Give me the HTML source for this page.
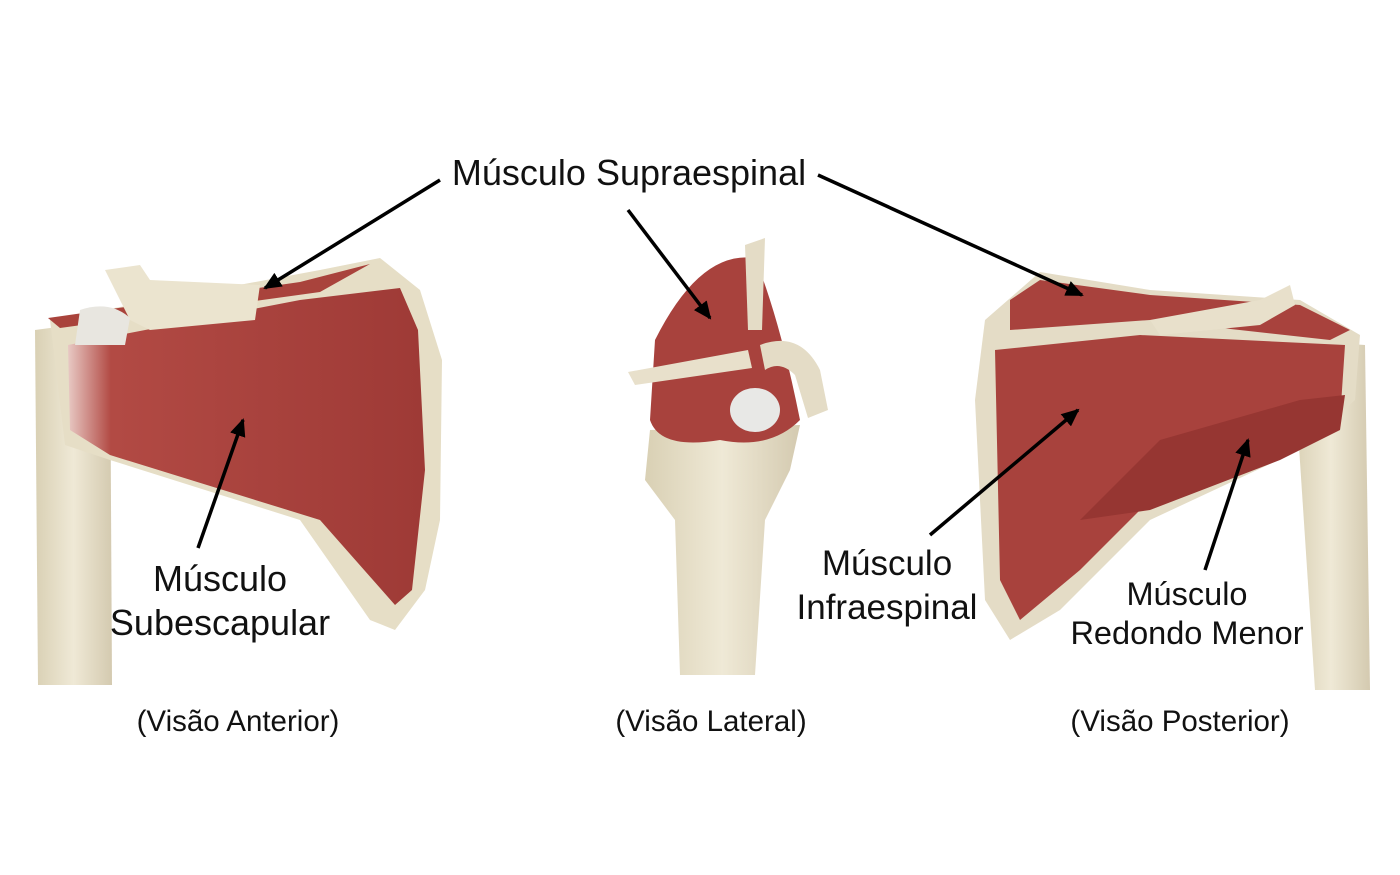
<!DOCTYPE html>
<html><head><meta charset="utf-8"><style>
html,body{margin:0;padding:0;background:#fff;}
svg{display:block;}
text{font-family:"Liberation Sans",Arial,sans-serif;fill:#111;}
</style></head><body>
<svg width="1400" height="875" viewBox="0 0 1400 875" xmlns="http://www.w3.org/2000/svg">
<defs>
<marker id="ah2" markerWidth="18" markerHeight="16" refX="16" refY="8" orient="auto" markerUnits="userSpaceOnUse">
<path d="M0,0 L18,8 L0,16 z" fill="#000"/></marker>
<linearGradient id="bone" x1="0" x2="1"><stop offset="0" stop-color="#d9d0b4"/><stop offset="0.5" stop-color="#efe9d6"/><stop offset="1" stop-color="#d4cab0"/></linearGradient>
<linearGradient id="mus" x1="0" x2="1"><stop offset="0" stop-color="#e8c9c4"/><stop offset="0.12" stop-color="#b24a44"/><stop offset="1" stop-color="#9e3a36"/></linearGradient>
</defs>

<!-- LEFT: anterior -->
<path d="M35,330 L110,320 L112,685 L38,685 Z" fill="url(#bone)"/>
<path d="M50,320 L320,270 L380,258 L420,290 L442,360 L440,520 L425,590 L395,630 L370,620 L300,520 L110,460 L65,445 Z" fill="#e6dec6"/>
<path d="M68,345 L300,300 L400,288 L418,330 L425,470 L412,590 L395,605 L320,520 L110,455 L70,430 Z" fill="url(#mus)"/>
<path d="M48,318 L300,282 L370,264 L320,292 L60,328 Z" fill="#a9433c"/>
<path d="M105,270 L140,265 L150,280 L260,285 L255,320 L150,330 L130,320 Z" fill="#ebe4cf"/>
<path d="M80,310 Q110,300 130,318 L125,345 L75,345 Z" fill="#e8e6e0"/>

<!-- CENTER: lateral -->
<path d="M650,430 L800,425 L790,470 L765,520 L755,675 L680,675 L675,520 L645,480 Z" fill="url(#bone)"/>
<path d="M655,340 Q700,250 755,258 Q780,320 800,420 Q770,450 720,440 Q660,450 650,420 Z" fill="#a8423d"/>
<path d="M745,245 L765,238 L762,330 L748,330 Z" fill="#e4dcc6"/>
<path d="M628,372 L748,350 L752,368 L635,385 Z" fill="#e8e0cb"/>
<path d="M760,345 Q800,330 820,370 L828,410 L808,418 L795,375 Q780,360 765,370 Z" fill="#e4dcc6"/>
<ellipse cx="755" cy="410" rx="25" ry="22" fill="#e8e8e6"/>

<!-- RIGHT: posterior -->
<path d="M1292,340 L1365,345 L1370,690 L1315,690 Z" fill="url(#bone)"/>
<path d="M985,320 L1040,272 L1150,290 L1300,300 L1360,335 L1355,400 L1300,450 L1150,520 L1060,610 L1010,640 L985,600 L975,400 Z" fill="#e4dcc6"/>
<path d="M1010,300 L1040,280 L1150,295 L1300,305 L1350,330 L1330,340 L1150,320 L1010,330 Z" fill="#a8423d"/>
<path d="M995,350 L1140,335 L1345,345 L1340,420 L1290,445 L1150,500 L1080,570 L1020,620 L1000,580 Z" fill="#a8423d"/>
<path d="M1080,520 L1160,440 L1300,400 L1345,395 L1340,430 L1280,460 L1150,510 Z" fill="#963632"/>
<path d="M1150,320 L1260,300 L1290,285 L1295,305 L1260,325 L1160,335 Z" fill="#e8e0cb"/>

<!-- arrows -->
<g stroke="#000" stroke-width="3.5" fill="none">
<line x1="440" y1="180" x2="265" y2="288" marker-end="url(#ah2)"/>
<line x1="628" y1="210" x2="710" y2="318" marker-end="url(#ah2)"/>
<line x1="818" y1="175" x2="1082" y2="295" marker-end="url(#ah2)"/>
<line x1="198" y1="548" x2="243" y2="420" marker-end="url(#ah2)"/>
<line x1="930" y1="535" x2="1078" y2="410" marker-end="url(#ah2)"/>
<line x1="1205" y1="570" x2="1248" y2="440" marker-end="url(#ah2)"/>
</g>

<!-- labels -->
<text x="629" y="185" font-size="36" text-anchor="middle">Músculo Supraespinal</text>
<text x="220" y="591" font-size="36" text-anchor="middle">Músculo</text>
<text x="220" y="635" font-size="36" text-anchor="middle">Subescapular</text>
<text x="887" y="575" font-size="35" text-anchor="middle">Músculo</text>
<text x="887" y="619" font-size="35" text-anchor="middle">Infraespinal</text>
<text x="1187" y="605" font-size="32.5" text-anchor="middle">Músculo</text>
<text x="1187" y="644" font-size="32.5" text-anchor="middle">Redondo Menor</text>
<text x="238" y="731" font-size="29.5" text-anchor="middle">(Visão Anterior)</text>
<text x="711" y="731" font-size="29.5" text-anchor="middle">(Visão Lateral)</text>
<text x="1180" y="731" font-size="29.5" text-anchor="middle">(Visão Posterior)</text>
</svg>
</body></html>
